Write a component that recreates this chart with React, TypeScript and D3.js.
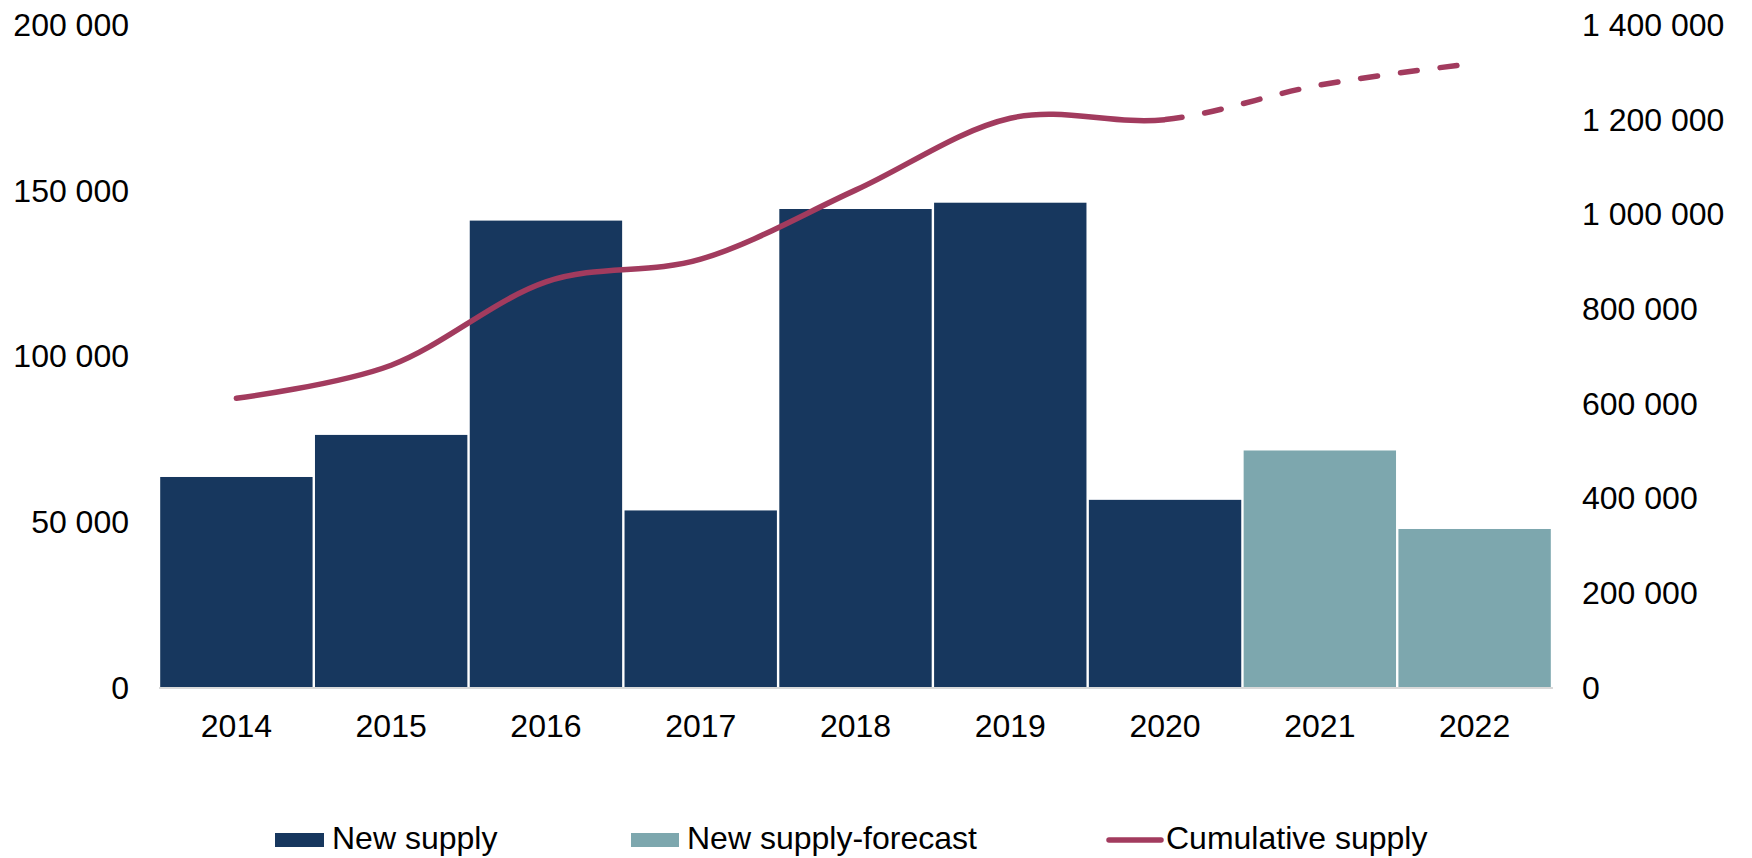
import { useLayoutEffect, useRef, useState } from 'react';
import * as d3 from 'd3';

const WIDTH = 1752;
const HEIGHT = 858;
const PLOT = { left: 159, right: 1552, top: 24.5, bottom: 687 };

const years = ['2014', '2015', '2016', '2017', '2018', '2019', '2020', '2021', '2022'];
const newSupply = [63400, 76100, 140800, 53300, 144300, 146200, 56500, 71400, 47700];
const forecastYears = ['2021', '2022'];
const cumulativeSupply = [610000, 680000, 856000, 904000, 1050000, 1202000, 1199000, 1272000, 1318000];
const lastActualYear = '2020';
const leftTicks = [0, 50000, 100000, 150000, 200000];
const rightTicks = [0, 200000, 400000, 600000, 800000, 1000000, 1200000, 1400000];

const NAVY = '#17375e';
const TEAL = '#7da7ae';
const LINE = '#a23b5e';
const FONT = '"Liberation Sans", Arial, sans-serif';
const FS = 32;

const fmt = d3.formatLocale({ decimal: '.', thousands: ' ', grouping: [3], currency: ['', ''] }).format(',');

type Point = { year: string; value: number };

export default function App() {
  const x = d3.scaleBand<string>().domain(years).range([PLOT.left, PLOT.right]).padding(0);
  const yLeft = d3.scaleLinear().domain([0, 200000]).range([PLOT.bottom, PLOT.top]);
  const yRight = d3.scaleLinear().domain([0, 1400000]).range([PLOT.bottom, PLOT.top]);
  const bw = x.bandwidth();
  const cx = (y: string) => (x(y) || 0) + bw / 2;

  const points: Point[] = years.map((year, i) => ({ year, value: cumulativeSupply[i] }));
  const lineBuilder = d3
    .line<Point>()
    .x((d) => cx(d.year))
    .y((d) => yRight(d.value))
    .curve(d3.curveCardinal.tension(0));
  const linePath = lineBuilder(points) || '';
  const splitX = cx(lastActualYear);

  // arc length where the forecast part starts, so the dashes begin there
  const pathRef = useRef<SVGPathElement>(null);
  const [dashOffset, setDashOffset] = useState(0);
  useLayoutEffect(() => {
    const el = pathRef.current;
    if (!el) return;
    const total = el.getTotalLength();
    let lo = 0;
    let hi = total;
    for (let i = 0; i < 40; i++) {
      const mid = (lo + hi) / 2;
      if (el.getPointAtLength(mid).x < splitX) lo = mid;
      else hi = mid;
    }
    setDashOffset(-lo);
  }, [linePath, splitX]);

  return (
    <svg
      width={WIDTH}
      height={HEIGHT}
      style={{ position: 'absolute', left: 0, top: 0, background: '#fff' }}
      fontFamily={FONT}
    >
      <defs>
        <clipPath id="clip-actual">
          <rect x={0} y={0} width={splitX} height={HEIGHT} />
        </clipPath>
        <clipPath id="clip-forecast">
          <rect x={splitX} y={0} width={WIDTH - splitX} height={HEIGHT} />
        </clipPath>
      </defs>

      {/* bars */}
      {years.map((year, i) => (
        <rect
          key={year}
          x={(x(year) || 0) + 1.2}
          y={yLeft(newSupply[i])}
          width={bw - 2.4}
          height={PLOT.bottom - yLeft(newSupply[i])}
          fill={forecastYears.includes(year) ? TEAL : NAVY}
        />
      ))}

      {/* baseline */}
      <line x1={PLOT.left} x2={PLOT.right + 1} y1={PLOT.bottom + 1} y2={PLOT.bottom + 1} stroke="#d9d9d9" strokeWidth={2} />

      {/* cumulative line */}
      <path
        ref={pathRef}
        d={linePath}
        fill="none"
        stroke={LINE}
        strokeWidth={5.5}
        strokeLinecap="round"
        clipPath="url(#clip-actual)"
      />
      <path
        d={linePath}
        fill="none"
        stroke={LINE}
        strokeWidth={5.5}
        strokeLinecap="round"
        strokeDasharray="17 23"
        strokeDashoffset={dashOffset}
        clipPath="url(#clip-forecast)"
      />

      {/* left axis */}
      {leftTicks.map((t) => (
        <text key={'l' + t} x={129} y={yLeft(t)} dy="0.36em" textAnchor="end" fontSize={FS} fill="#000">
          {fmt(t)}
        </text>
      ))}

      {/* right axis */}
      {rightTicks.map((t) => (
        <text key={'r' + t} x={1582} y={yRight(t)} dy="0.36em" textAnchor="start" fontSize={FS} fill="#000">
          {fmt(t)}
        </text>
      ))}

      {/* x axis */}
      {years.map((year) => (
        <text key={'x' + year} x={cx(year)} y={737} textAnchor="middle" fontSize={FS} fill="#000">
          {year}
        </text>
      ))}

      {/* legend */}
      <g fontSize={FS} fill="#000">
        <rect x={275} y={833} width={49} height={14} fill={NAVY} />
        <text x={332} y={849}>New supply</text>
        <rect x={631} y={833} width={48} height={14} fill={TEAL} />
        <text x={687} y={849}>New supply-forecast</text>
        <line x1={1109} x2={1161} y1={840} y2={840} stroke={LINE} strokeWidth={5.5} strokeLinecap="round" />
        <text x={1166} y={849}>Cumulative supply</text>
      </g>
    </svg>
  );
}
